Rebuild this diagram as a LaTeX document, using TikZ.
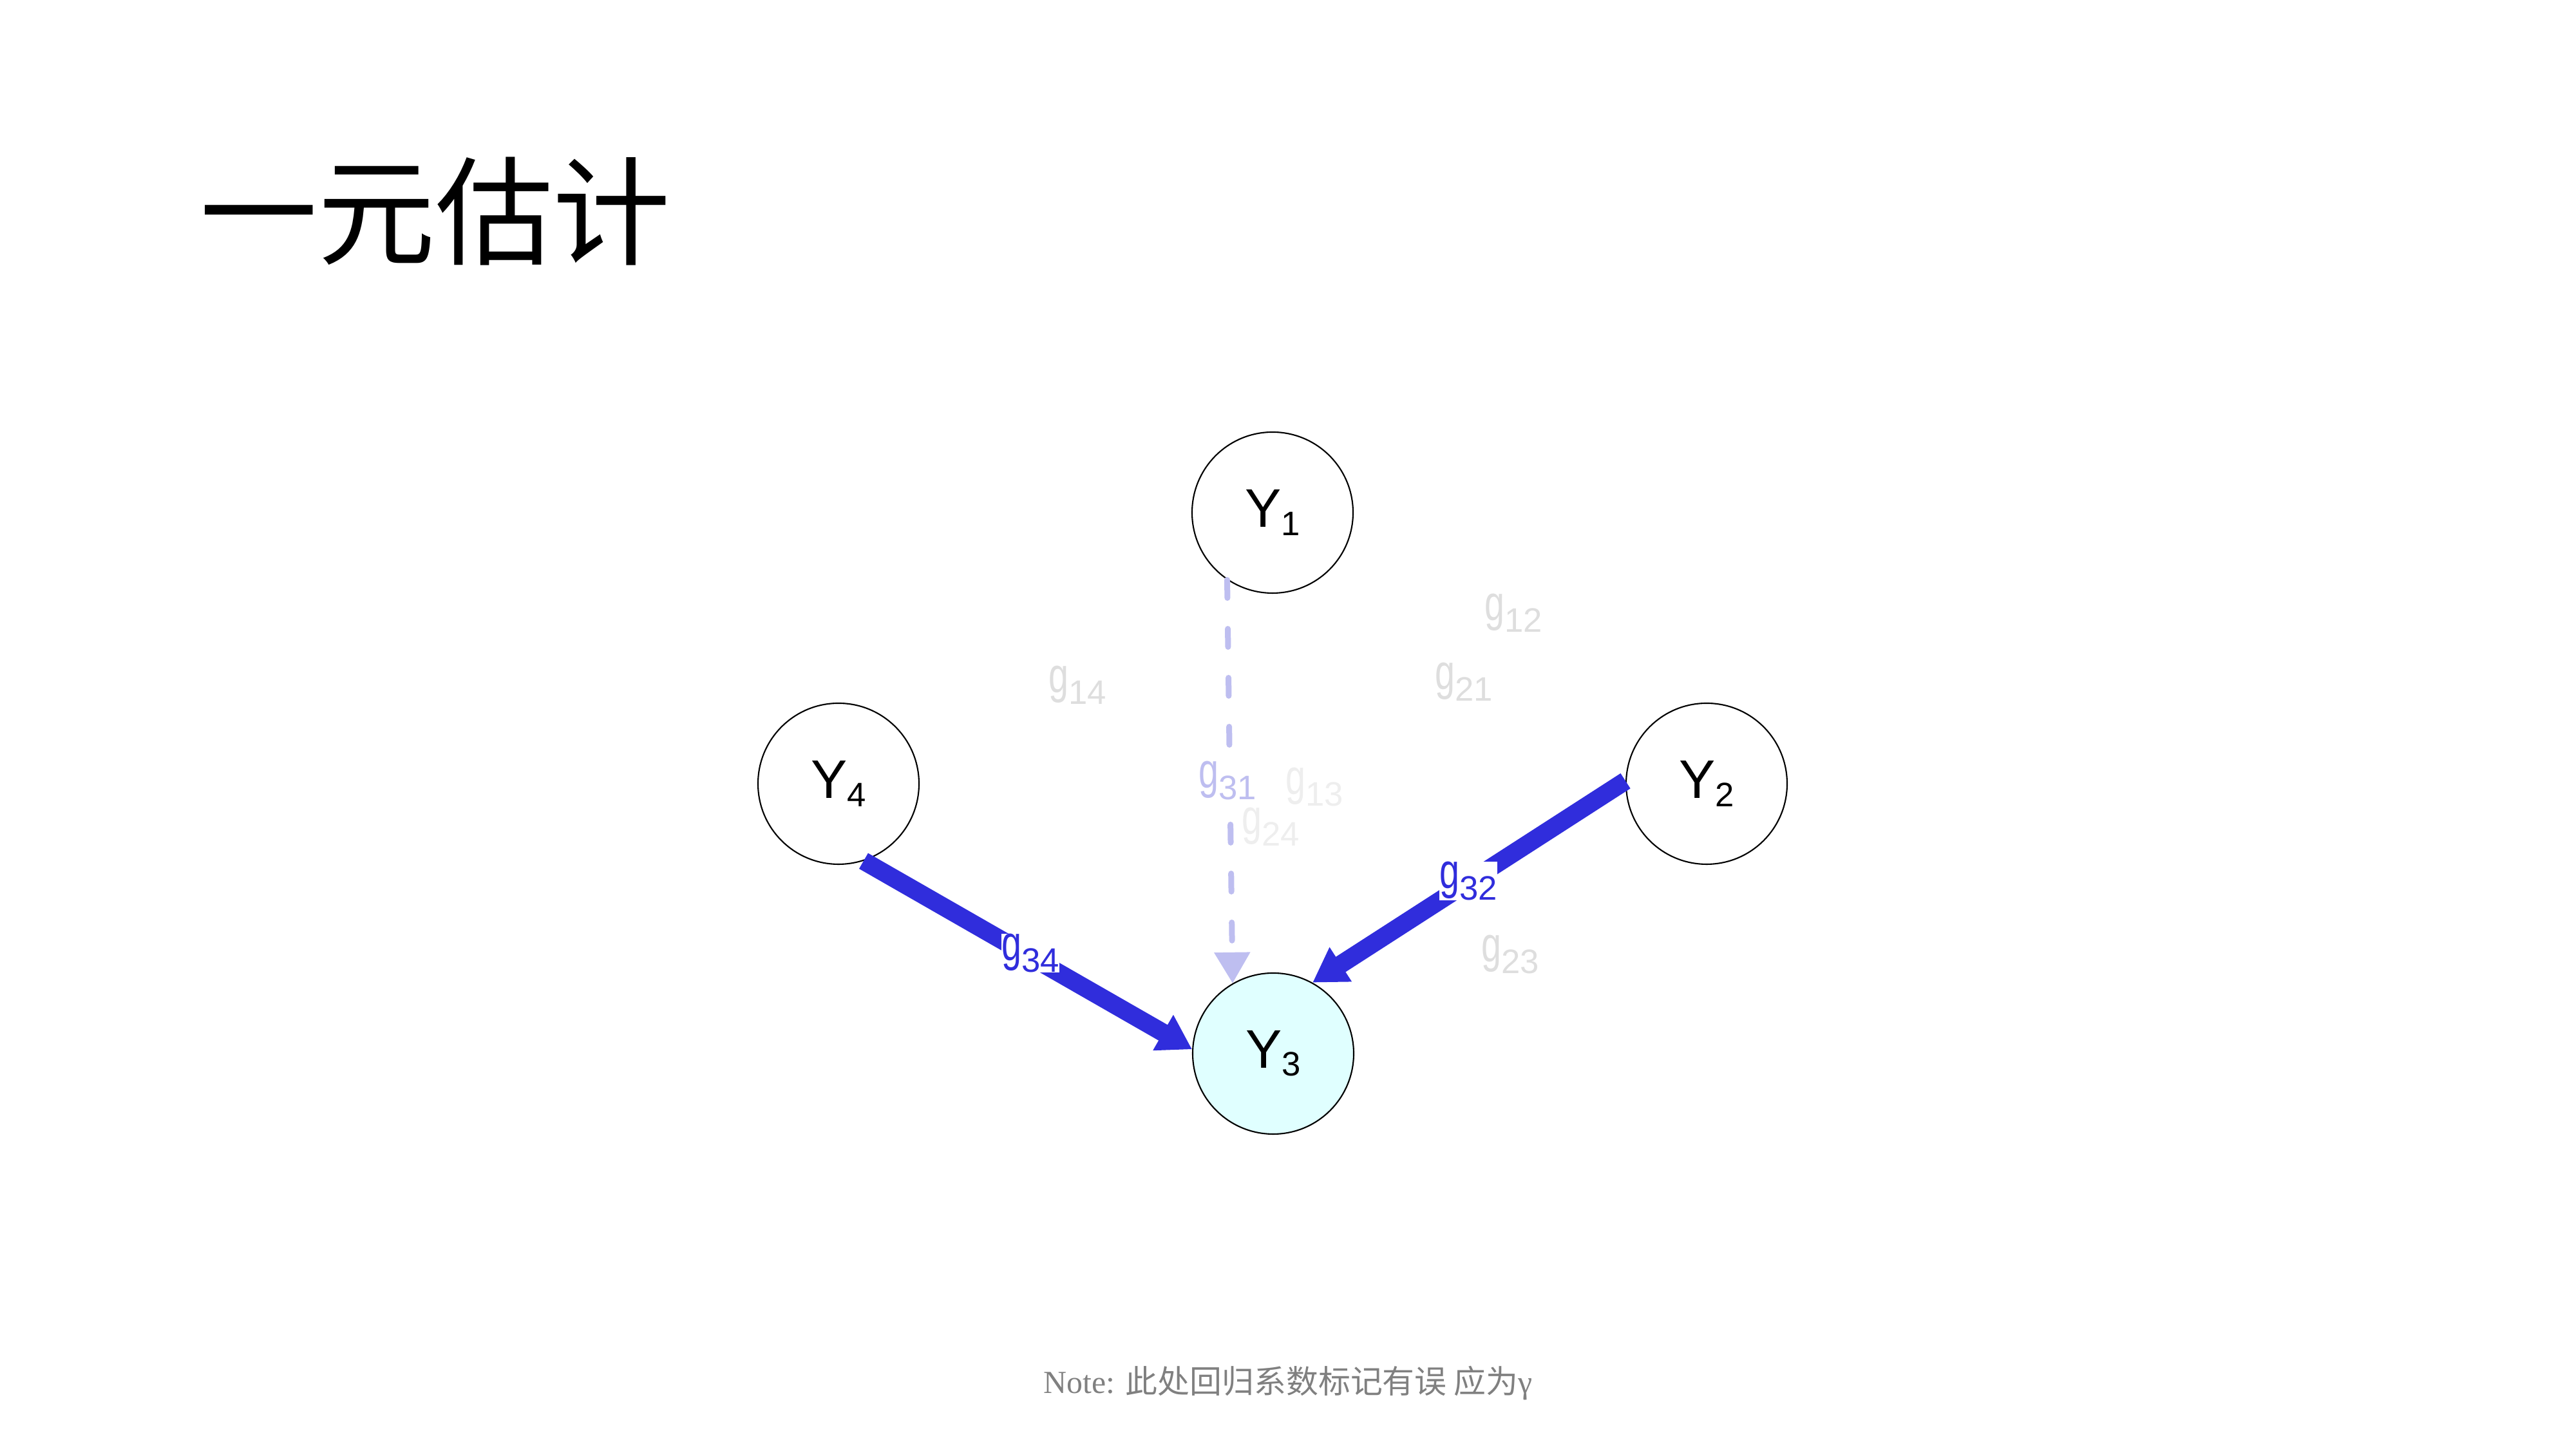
\documentclass[tikz,border=0pt]{standalone}
\usepackage{fontspec}
\usepackage{tikz}
\usetikzlibrary{arrows.meta}
\setmainfont{Liberation Serif}
\newfontfamily\cjk{Noto Sans CJK SC}
\newfontfamily\sansfont{Liberation Sans}
\newfontfamily\gfont[FakeStretch=0.72]{Liberation Sans}
\definecolor{pathblue}{RGB}{48,45,220}
\definecolor{dropped}{RGB}{190,190,240}
\definecolor{unused}{RGB}{222,222,222}
\definecolor{faint}{RGB}{238,238,238}
\definecolor{targetfill}{RGB}{224,255,255}
\definecolor{notegray}{RGB}{128,128,128}
\newcommand{\yvar}[1]{\fontsize{24}{24}\sansfont Y\raisebox{-3.5pt}{\fontsize{15}{15}\selectfont #1}}
\newcommand{\gcoef}[1]{{\fontsize{22}{22}\gfont g}\raisebox{-5pt}{\fontsize{15}{15}\sansfont #1}}
\tikzset{var/.style={circle,draw,line width=.6pt,minimum size=2.5cm,inner sep=0pt},
 effect/.style={pathblue,line width=.28cm,-{Triangle[length=.52cm,width=.6cm]}},
 dropped effect/.style={dropped,line width=.09cm,line cap=round,
  dash pattern=on .28cm off .48cm,-{Triangle[length=.48cm,width=.54cm]}},
 coef/.style={inner sep=0pt}}

\begin{document}
\begin{tikzpicture}
\useasboundingbox (0,0) rectangle (40,22.5);
\node[anchor=west,inner sep=0pt] (title) at (3.1,19.22) {\cjk\fontsize{52}{52}\selectfont 一元估计};
\node[var] (Y1) at (19.76,14.54) {\yvar{1}};
\node[var] (Y2) at (26.50,10.33) {\yvar{2}};
\node[var,fill=targetfill] (Y3) at (19.77,6.14) {\yvar{3}};
\node[var] (Y4) at (13.02,10.33) {\yvar{4}};
\draw[dropped effect] (Y1.236) -- (Y3.120);
\draw[effect] (Y4.288) -- (Y3.177);
\draw[effect] (Y2.178) -- (Y3.61);
\node[coef,unused] (g12) at (23.50,12.98) {\gcoef{12}};
\node[coef,unused] (g21) at (22.73,11.91) {\gcoef{21}};
\node[coef,unused] (g14) at (16.73,11.86) {\gcoef{14}};
\node[coef,unused] (g23) at (23.45,7.68) {\gcoef{23}};
\node[coef,faint] (g13) at (20.41,10.28) {\gcoef{13}};
\node[coef,faint] (g24) at (19.73,9.66) {\gcoef{24}};
\node[coef,dropped,fill=white] (g31) at (19.06,10.38) {\gcoef{31}};
\node[coef,pathblue,fill=white] (g32) at (22.80,8.82) {\gcoef{32}};
\node[coef,pathblue,fill=white] (g34) at (16.00,7.70) {\gcoef{34}};
\node[notegray] (note) at (20,1.02) {\fontsize{14.2}{14.2}\selectfont Note: {\cjk 此处回归系数标记有误 应为}γ};
\end{tikzpicture}
\end{document}
